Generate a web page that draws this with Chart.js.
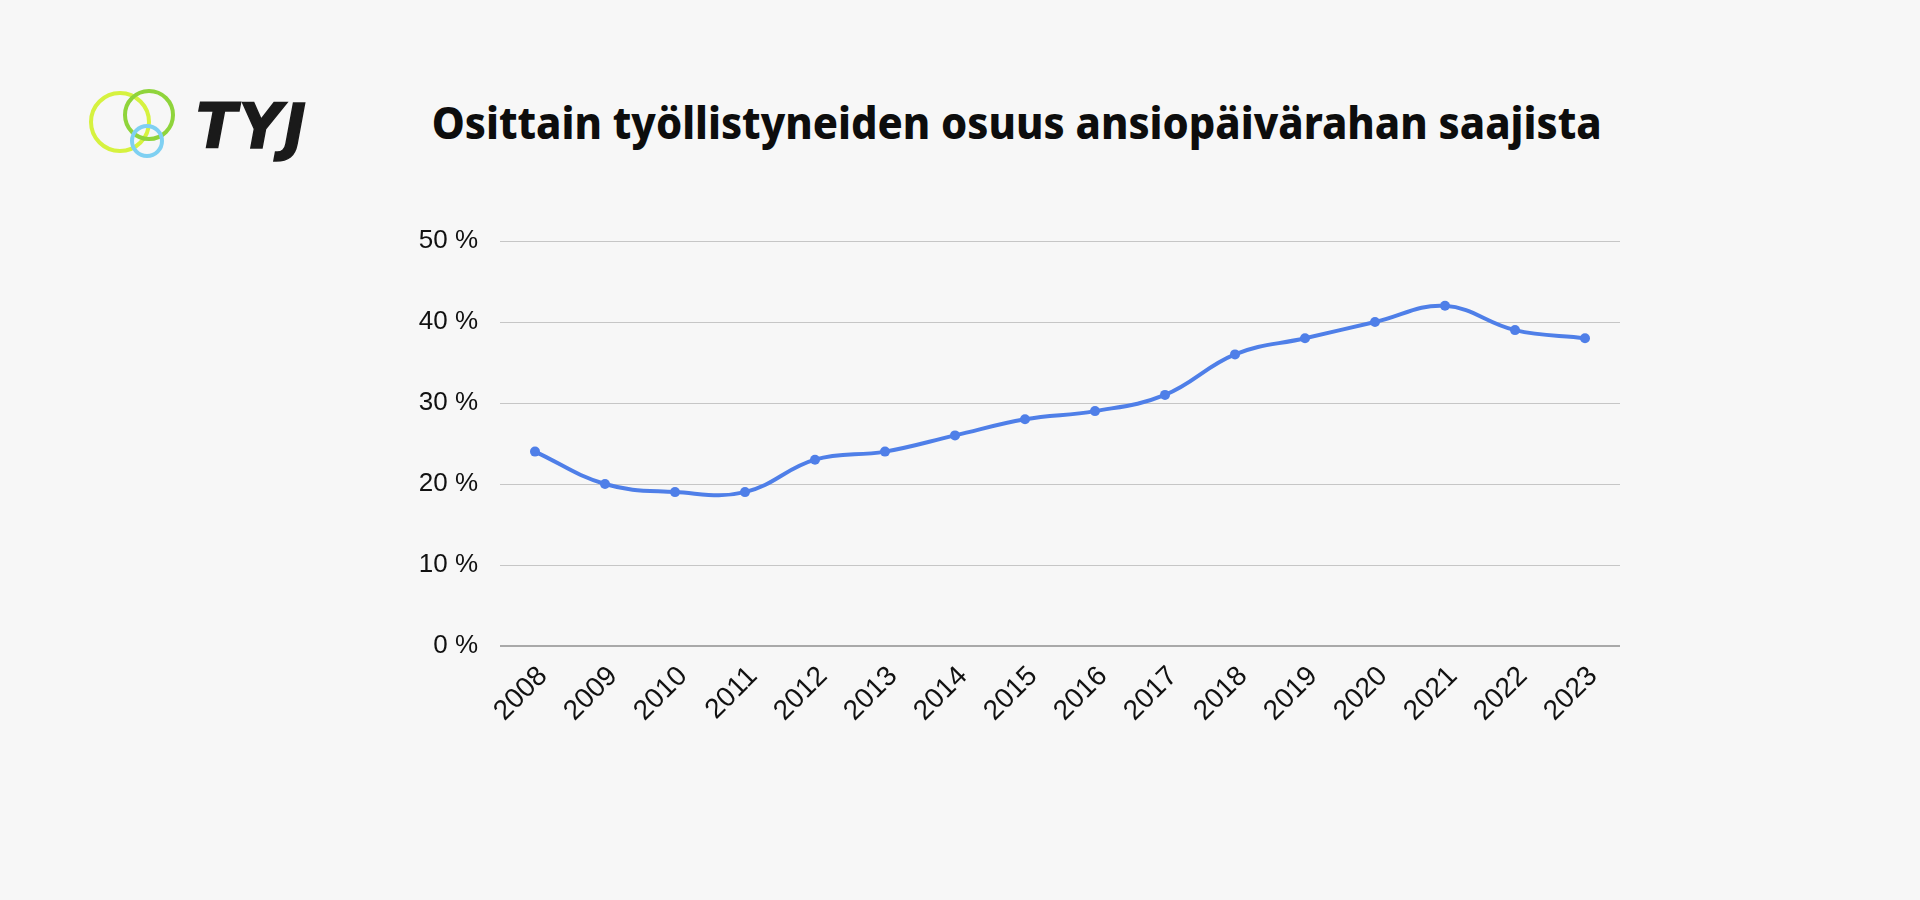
<!DOCTYPE html>
<html lang="fi">
<head>
<meta charset="utf-8">
<title>Osittain työllistyneiden osuus ansiopäivärahan saajista</title>
<script src="https://cdn.jsdelivr.net/npm/chart.js@4.4.1/dist/chart.umd.min.js"></script>
<style>
  html, body { margin: 0; padding: 0; background: #f7f7f7; }
  body { width: 1920px; height: 900px; position: relative; overflow: hidden; }
  #logo { position: absolute; left: 0; top: 0; }
  #title {
    position: absolute; left: 0; top: 92px; width: 2034px; text-align: center;
    font-family: "Noto Sans", sans-serif; font-weight: 800; font-size: 44px;
    color: #0d0d0d; white-space: nowrap;
  }
  #title span { display: inline-block; transform-origin: center; }
  #wrap { position: absolute; left: 0; top: 0; width: 1920px; height: 900px; }
</style>
</head>
<body>
<svg id="logo" width="360" height="180">
  <circle cx="120" cy="122" r="29" fill="none" stroke="#d6f23f" stroke-width="4"/>
  <circle cx="149" cy="115" r="24" fill="none" stroke="#8fd43b" stroke-width="4"/>
  <circle cx="147" cy="141" r="15" fill="none" stroke="#7fd0f2" stroke-width="4"/>
  <text x="196" y="148" font-family="DejaVu Sans, sans-serif" font-weight="700"
        font-style="italic" font-size="62" letter-spacing="2" fill="#1a1a1a"
        stroke="#1a1a1a" stroke-width="1.5">TYJ</text>
</svg>
<div id="title"><span id="titleText">Osittain työllistyneiden osuus ansiopäivärahan saajista</span></div>
<div id="wrap"><canvas id="chart"></canvas></div>
<script>
// ── Data ──────────────────────────────────────────────
const years  = ['2008','2009','2010','2011','2012','2013','2014','2015',
                '2016','2017','2018','2019','2020','2021','2022','2023'];
const shares = [24, 20, 19, 19, 23, 24, 26, 28, 29, 31, 36, 38, 40, 42, 39, 38];
const yTicks = [0, 10, 20, 30, 40, 50];

const LINE = '#4f7fe8';
const FAMILY = '"Liberation Sans", Arial, sans-serif';

// fit title to reference width
(function () {
  const el = document.getElementById('titleText');
  const w = el.getBoundingClientRect().width;
  el.style.transform = 'scaleX(' + (1170 / w) + ')';
})();

// fit logo text to reference width
(function () {
  const t = document.querySelector('#logo text');
  t.setAttribute('textLength', 112);
  t.setAttribute('lengthAdjust', 'spacingAndGlyphs');
})();

new Chart(document.getElementById('chart'), {
  type: 'line',
  data: {
    labels: years,
    datasets: [{
      data: shares,
      borderColor: LINE,
      backgroundColor: LINE,
      borderWidth: 4,
      pointRadius: 5,
      pointBackgroundColor: LINE,
      pointBorderWidth: 0,
      tension: 0.4,
      fill: false,
    }],
  },
  options: {
    responsive: true, maintainAspectRatio: false, animation: false,
    layout: { padding: { left: 380, right: 300, top: 241, bottom: 154 } },
    plugins: { legend: { display: false }, tooltip: { enabled: false } },
    scales: {
      x: {
        offset: true,
        grid: { display: false },
        border: { display: false },
        ticks: {
          font: { family: FAMILY, size: 28 }, color: '#111',
          minRotation: 45, maxRotation: 45, autoSkip: false,
          padding: 6, labelOffset: 8,
        },
        afterFit: s => { s.height = 100; },
      },
      y: {
        min: 0, max: 50,
        afterBuildTicks: s => { s.ticks = yTicks.map(v => ({ value: v })); },
        grid: {
          drawTicks: false,
          color: c => c.tick && c.tick.value === 0 ? '#a9a9a9' : '#c6c6c6',
          lineWidth: c => c.tick && c.tick.value === 0 ? 2 : 1,
        },
        border: { display: false },
        ticks: { font: { family: FAMILY, size: 26 }, color: '#111', padding: 22, callback: v => v + ' %' },
        afterFit: s => { s.width = 120; },
      },
    },
  },
});
</script>
</body>
</html>
